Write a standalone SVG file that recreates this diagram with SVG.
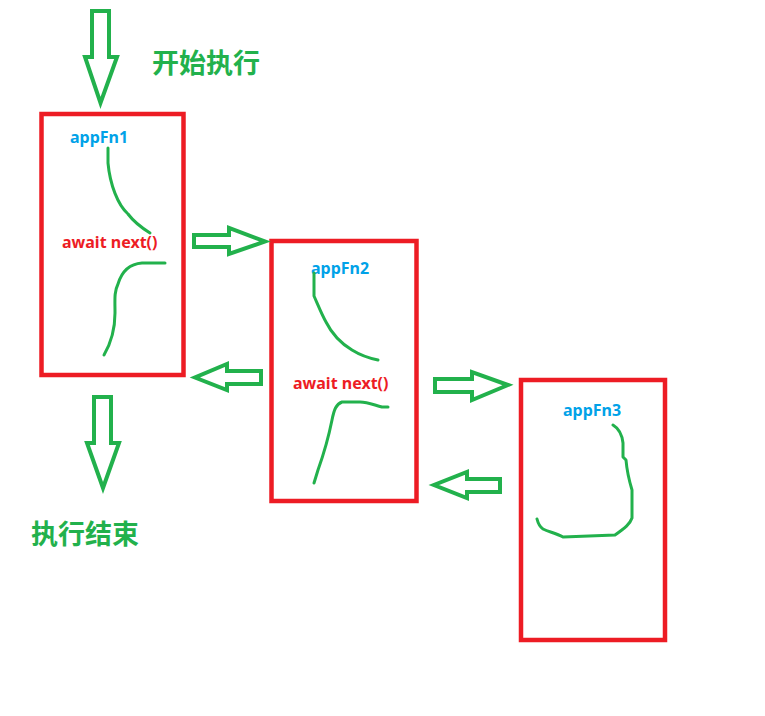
<svg xmlns="http://www.w3.org/2000/svg" width="765" height="716" viewBox="0 0 765 716">
<style>
.box{fill:none;stroke:#ED1C24;stroke-width:4.5}
.arr{fill:none;stroke:#22B14C;stroke-width:4;stroke-linejoin:miter}
.ink{fill:none;stroke:#22B14C;stroke-width:3;stroke-linecap:round;stroke-linejoin:round}
.fn{font-family:"Noto Sans","Liberation Sans",sans-serif;font-weight:bold;font-size:16px;fill:#00A2E8}
.aw{font-family:"Noto Sans","Liberation Sans",sans-serif;font-weight:bold;font-size:16px;fill:#ED1C24}
.cn{font-family:"Noto Sans CJK SC","Noto Sans",sans-serif;font-weight:bold;font-size:27px;fill:#22B14C}
</style>
<rect width="765" height="716" fill="#fff"/>
<g id="appFn1">
<rect class="box" x="41.5" y="114" width="142" height="261"/>
<text class="fn" x="70" y="143">appFn1</text>
<text class="aw" x="62" y="248">await next()</text>
<path class="ink" d="M108,148 L108,163 C110,185 118,205 128,214 C134,222 142,228 150,233"/>
<path class="ink" d="M165,263 L142,263 C128,264 121,274 118,284 C114,292 115,300 115,313 C115,330 111,343 104,355"/>
</g>
<g id="appFn2">
<rect class="box" x="271.5" y="241" width="145" height="260"/>
<text class="fn" x="311" y="274">appFn2</text>
<text class="aw" x="293" y="389">await next()</text>
<path class="ink" d="M314,273 L314,296 C318,305 322,315 326,322 C332,334 342,344 352,350 C360,355 368,358 378,360"/>
<path class="ink" d="M388,407 L382,407 C374,405 368,402 360,402 L342,402 C336,404 334,410 332,420 C328,440 323,456 318,470 L314,483"/>
</g>
<g id="appFn3">
<rect class="box" x="521" y="380" width="144" height="260"/>
<text class="fn" x="563" y="416">appFn3</text>
<path class="ink" d="M613,425 C618,428 622,434 623,443 L623,457 L626,460 C627,472 629,480 632,490 L632,518 C630,524 625,528 615,535 L563,537 C556,533 549,532 543,529 C540,527 538,523 537,519"/>
</g>
<g id="start">
<text class="cn" x="152" y="73">开始执行</text>
</g>
<g id="end">
<text class="cn" x="31" y="544">执行结束</text>
</g>
<g id="connectors">
<polygon class="arr" points="92,11 109,11 109,57 117,57 100.5,103 85,57 92,57"/>
<polygon class="arr" points="94,397 111,397 111,443 119,443 103,488 87,443 94,443"/>
<polygon class="arr" points="194,235 229,235 229,228 265,241.5 229,254 229,247 194,247"/>
<polygon class="arr" points="261,371 227,371 227,364 195,377.5 227,390 227,384 261,384"/>
<polygon class="arr" points="435,379 472,379 472,372 508,385 472,400 472,392 435,392"/>
<polygon class="arr" points="500,479 467,479 467,472 434,485 467,498 467,492 500,492"/>
</g>
</svg>
